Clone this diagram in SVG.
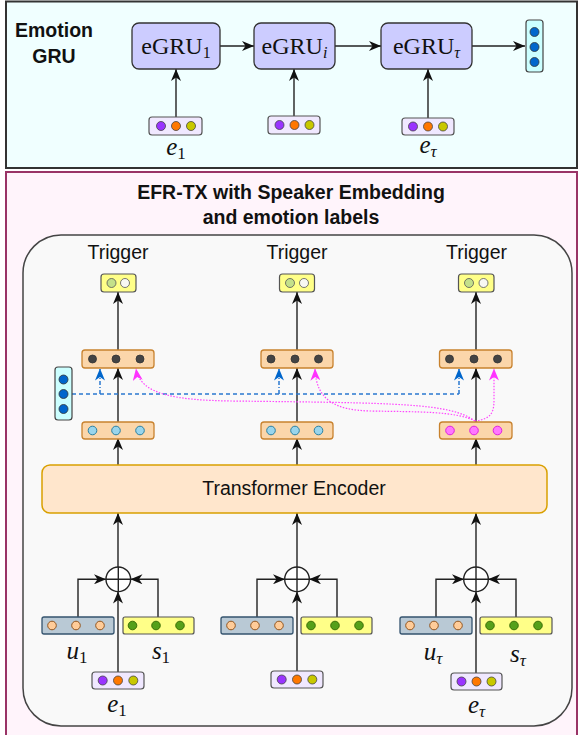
<svg xmlns="http://www.w3.org/2000/svg" width="579" height="735" viewBox="0 0 579 735">
<style>
.ttl{font-family:"Liberation Sans",Arial,sans-serif;font-weight:bold;font-size:19.5px;fill:#111;text-anchor:middle}
.lbl{font-family:"Liberation Sans",Arial,sans-serif;font-size:19.5px;fill:#111;text-anchor:middle}
.math{font-family:"Liberation Serif","Times New Roman",serif;font-size:25px;fill:#111;text-anchor:middle}
.gru{font-family:"Liberation Serif","Times New Roman",serif;font-size:24px;fill:#111;text-anchor:middle}
.gbox{fill:#ccccff;stroke:#333;stroke-width:1.3}
.ebox{fill:#f0e8ff;stroke:#555;stroke-width:1.2}
.cbox{fill:#ccffff;stroke:#444;stroke-width:1.2}
.obox{fill:#fbd6aa;stroke:#c8822e;stroke-width:1.3}
.ybox{fill:#ffff88;stroke:#555;stroke-width:1.2}
.ubox{fill:#b9c9d5;stroke:#34536e;stroke-width:1.3}
.dp{fill:#9933ff;stroke:#444;stroke-width:0.8}
.do{fill:#ff7700;stroke:#444;stroke-width:0.8}
.dy{fill:#c8c800;stroke:#444;stroke-width:0.8}
.db{fill:#0066cc;stroke:#333;stroke-width:0.8}
.dk{fill:#444;stroke:#333;stroke-width:0.8}
.dl{fill:#99d5ec;stroke:#2a7fa0;stroke-width:1}
.dm{fill:#ff77ff;stroke:#dd22dd;stroke-width:1}
.dg{fill:#c4e08a;stroke:#555;stroke-width:0.8}
.dw{fill:#f8f8f2;stroke:#555;stroke-width:0.8}
.dpe{fill:#ffcc99;stroke:#8a4a10;stroke-width:0.9}
.dgr{fill:#55a01a;stroke:#336600;stroke-width:0.9}
.arr{fill:none;stroke:#222;stroke-width:1.4;marker-end:url(#ah)}
.ln{fill:none;stroke:#222;stroke-width:1.4}
.bl{fill:none;stroke:#2a78d0;stroke-width:1.5;stroke-dasharray:4 3}
.bla{fill:none;stroke:#2a78d0;stroke-width:1.5;stroke-dasharray:4 2 1 2;marker-end:url(#ab)}
.mg{fill:none;stroke:#ff44ff;stroke-width:1.2;stroke-dasharray:1.5 1.5;marker-end:url(#am)}
</style>
<defs>
<marker id="ah" viewBox="0 0 12 10" refX="12" refY="5" markerWidth="12" markerHeight="10" markerUnits="userSpaceOnUse" orient="auto"><path d="M0,0 L12,5 L0,10 L3.5,5 z" fill="#111"/></marker>
<marker id="ab" viewBox="0 0 12 10" refX="12" refY="5" markerWidth="12" markerHeight="10" markerUnits="userSpaceOnUse" orient="auto"><path d="M0,0 L12,5 L0,10 L3.5,5 z" fill="#0066cc"/></marker>
<marker id="am" viewBox="0 0 12 10" refX="12" refY="5" markerWidth="12" markerHeight="10" markerUnits="userSpaceOnUse" orient="auto"><path d="M0,0 L12,5 L0,10 L3.5,5 z" fill="#ff33ff"/></marker>
</defs>

<!-- panels -->
<rect x="6" y="1.5" width="571" height="166.5" fill="#f0ffff" stroke="#333" stroke-width="2"/>
<rect x="6" y="172" width="571" height="570" fill="#fff4fb" stroke="#993366" stroke-width="2"/>
<text class="ttl" x="54" y="37">Emotion</text>
<text class="ttl" x="54" y="63">GRU</text>
<text class="ttl" x="291" y="199">EFR-TX with Speaker Embedding</text>
<text class="ttl" x="291" y="224">and emotion labels</text>
<rect x="23" y="235" width="549" height="491" rx="38" ry="38" fill="#f9f9f9" stroke="#444" stroke-width="1.5"/>

<g id="connectors">
<path class="arr" d="M220,46 H254"/>
<path class="arr" d="M335,46 H381"/>
<path class="arr" d="M472,46 H525"/>
<path class="arr" d="M176,117 V69"/>
<path class="arr" d="M294,116 V69"/>
<path class="arr" d="M428,118 V69"/>
<path class="arr" d="M118,350 V292"/>
<path class="arr" d="M297,350 V292"/>
<path class="arr" d="M476,350 V292"/>
<path class="arr" d="M118,422 V368"/>
<path class="arr" d="M297,422 V368"/>
<path class="arr" d="M476,422 V368"/>
<path class="arr" d="M118,465 V438"/>
<path class="arr" d="M297,465 V438"/>
<path class="arr" d="M476,465 V438"/>
<path class="arr" d="M118,567 V513"/>
<path class="arr" d="M297,567 V513"/>
<path class="arr" d="M476,567 V513"/>
<path class="arr" d="M78,617 V579.3 H106"/>
<path class="arr" d="M158,617 V579.3 H130.5"/>
<path class="arr" d="M118,672 V591.5"/>
<path class="arr" d="M257,617 V579.3 H285"/>
<path class="arr" d="M337,617 V579.3 H309"/>
<path class="arr" d="M297,671 V591.5"/>
<path class="arr" d="M436,617 V579.3 H464"/>
<path class="arr" d="M516,617 V579.3 H488"/>
<path class="arr" d="M476,673 V591.5"/>
<path class="bl" d="M72,394 H459"/>
<path class="bla" d="M100,394 V368.5"/>
<path class="bla" d="M279,394 V368.5"/>
<path class="bla" d="M459,394 V368.5"/>
<path class="mg" d="M475,421 C490,419 494,414 494,400 L494,368.5"/>
<path class="mg" d="M475,421 C455,411 420,412 370,411 C335,410 316,400 315,368.5"/>
<path class="mg" d="M475,421 C450,403 400,403 230,401 C180,400 140,396 136,368.5"/>
</g>

<g id="egru1"><rect class="gbox" x="132" y="23" width="88" height="46" rx="7"/><text class="gru" x="176" y="54">eGRU<tspan font-size="16" dy="4">1</tspan></text></g>
<g id="egrui"><rect class="gbox" x="254" y="23" width="81" height="46" rx="7"/><text class="gru" x="294.5" y="54">eGRU<tspan font-size="16" dy="4" font-style="italic">i</tspan></text></g>
<g id="egrut"><rect class="gbox" x="381" y="23" width="91" height="46" rx="7"/><text class="gru" x="426.5" y="54">eGRU<tspan font-size="16" dy="4" font-style="italic">τ</tspan></text></g>
<g id="egru-out"><rect class="cbox" x="526" y="20" width="17" height="52" rx="3"/><circle class="db" cx="534.5" cy="32" r="4.5"/><circle class="db" cx="534.5" cy="47" r="4.5"/><circle class="db" cx="534.5" cy="62" r="4.5"/></g>

<g id="top-e1"><rect class="ebox" x="149" y="117" width="53" height="18" rx="3"/><circle class="dp" cx="161" cy="126" r="4.5"/><circle class="do" cx="176" cy="126" r="4.5"/><circle class="dy" cx="191" cy="126" r="4.5"/><text class="math" x="176" y="155"><tspan font-style="italic">e</tspan><tspan font-size="17" dy="4">1</tspan></text></g>
<g id="top-ei"><rect class="ebox" x="268" y="116" width="52" height="18" rx="3"/><circle class="dp" cx="279.5" cy="125" r="4.5"/><circle class="do" cx="294.5" cy="125" r="4.5"/><circle class="dy" cx="309.5" cy="125" r="4.5"/></g>
<g id="top-et"><rect class="ebox" x="402" y="118" width="52" height="17" rx="3"/><circle class="dp" cx="413" cy="126.5" r="4.5"/><circle class="do" cx="428" cy="126.5" r="4.5"/><circle class="dy" cx="443" cy="126.5" r="4.5"/><text class="math" x="428" y="153"><tspan font-style="italic">e</tspan><tspan font-size="17" dy="4" font-style="italic">τ</tspan></text></g>

<g id="trig1"><text class="lbl" x="118" y="259">Trigger</text><rect class="ybox" x="101" y="274" width="35" height="18" rx="3"/><circle class="dg" cx="111.5" cy="283" r="4.5"/><circle class="dw" cx="125" cy="283" r="4.5"/></g>
<g id="trig2"><text class="lbl" x="297" y="259">Trigger</text><rect class="ybox" x="279.5" y="274" width="35" height="18" rx="3"/><circle class="dg" cx="290" cy="283" r="4.5"/><circle class="dw" cx="304" cy="283" r="4.5"/></g>
<g id="trig3"><text class="lbl" x="476.5" y="259">Trigger</text><rect class="ybox" x="458.5" y="274" width="35.5" height="18" rx="3"/><circle class="dg" cx="469" cy="283" r="4.5"/><circle class="dw" cx="483.5" cy="283" r="4.5"/></g>

<g id="h1"><rect class="obox" x="82" y="350" width="72" height="18" rx="3"/><circle class="dk" cx="92.5" cy="359" r="4"/><circle class="dk" cx="116" cy="359" r="4"/><circle class="dk" cx="140" cy="359" r="4"/></g>
<g id="h2"><rect class="obox" x="261" y="350" width="72" height="18" rx="3"/><circle class="dk" cx="271" cy="359" r="4"/><circle class="dk" cx="295" cy="359" r="4"/><circle class="dk" cx="318.5" cy="359" r="4"/></g>
<g id="h3"><rect class="obox" x="439.5" y="350" width="72.5" height="18" rx="3"/><circle class="dk" cx="449.5" cy="359" r="4"/><circle class="dk" cx="474" cy="359" r="4"/><circle class="dk" cx="497.5" cy="359" r="4"/></g>

<g id="emo-vec"><rect class="cbox" x="55" y="367" width="17" height="53" rx="3"/><circle class="db" cx="63.5" cy="379.5" r="4.5"/><circle class="db" cx="63.5" cy="394" r="4.5"/><circle class="db" cx="63.5" cy="409" r="4.5"/></g>

<g id="l1"><rect class="obox" x="82" y="422" width="72" height="17" rx="3"/><circle class="dl" cx="92.5" cy="430.5" r="4.3"/><circle class="dl" cx="116" cy="430.5" r="4.3"/><circle class="dl" cx="140" cy="430.5" r="4.3"/></g>
<g id="l2"><rect class="obox" x="261" y="422" width="72" height="17" rx="3"/><circle class="dl" cx="271" cy="430.5" r="4.3"/><circle class="dl" cx="295" cy="430.5" r="4.3"/><circle class="dl" cx="318.5" cy="430.5" r="4.3"/></g>
<g id="l3"><rect class="obox" x="439.5" y="422" width="72.5" height="17" rx="3"/><circle class="dm" cx="450" cy="430.5" r="4.3"/><circle class="dm" cx="474" cy="430.5" r="4.3"/><circle class="dm" cx="497.5" cy="430.5" r="4.3"/></g>

<g id="encoder"><rect x="42" y="465" width="505" height="48" rx="8" fill="#ffe6cc" stroke="#d9a000" stroke-width="1.5"/><text class="lbl" x="294" y="495">Transformer Encoder</text></g>

<g id="sum1"><circle cx="118.3" cy="579.3" r="12.3" fill="#fff" stroke="#222" stroke-width="1.4"/><path class="ln" d="M106,579.3 H130.6 M118.3,567 V591.6"/></g>
<g id="sum2"><circle cx="297" cy="579.3" r="12.3" fill="#fff" stroke="#222" stroke-width="1.4"/><path class="ln" d="M284.7,579.3 H309.3 M297,567 V591.6"/></g>
<g id="sum3"><circle cx="476" cy="579.3" r="12.3" fill="#fff" stroke="#222" stroke-width="1.4"/><path class="ln" d="M463.7,579.3 H488.3 M476,567 V591.6"/></g>

<g id="u1"><rect class="ubox" x="42" y="617" width="72" height="17" rx="2"/><circle class="dpe" cx="52" cy="625.5" r="4.3"/><circle class="dpe" cx="76" cy="625.5" r="4.3"/><circle class="dpe" cx="100" cy="625.5" r="4.3"/><text class="math" x="77" y="659"><tspan font-style="italic">u</tspan><tspan font-size="17" dy="4">1</tspan></text></g>
<g id="s1"><rect class="ybox" x="123" y="617" width="71" height="17" rx="2"/><circle class="dgr" cx="132.5" cy="625.5" r="4.3"/><circle class="dgr" cx="156" cy="625.5" r="4.3"/><circle class="dgr" cx="180" cy="625.5" r="4.3"/><text class="math" x="161" y="659"><tspan font-style="italic">s</tspan><tspan font-size="17" dy="4">1</tspan></text></g>
<g id="e1"><rect class="ebox" x="92" y="672" width="52" height="17" rx="3"/><circle class="dp" cx="102.7" cy="680.5" r="4.5"/><circle class="do" cx="118" cy="680.5" r="4.5"/><circle class="dy" cx="133.3" cy="680.5" r="4.5"/><text class="math" x="117" y="712"><tspan font-style="italic">e</tspan><tspan font-size="17" dy="4">1</tspan></text></g>

<g id="u2"><rect class="ubox" x="221" y="617" width="72" height="17" rx="2"/><circle class="dpe" cx="231" cy="625.5" r="4.3"/><circle class="dpe" cx="255" cy="625.5" r="4.3"/><circle class="dpe" cx="279" cy="625.5" r="4.3"/></g>
<g id="s2"><rect class="ybox" x="301" y="617" width="71" height="17" rx="2"/><circle class="dgr" cx="311" cy="625.5" r="4.3"/><circle class="dgr" cx="335" cy="625.5" r="4.3"/><circle class="dgr" cx="359" cy="625.5" r="4.3"/></g>
<g id="e2"><rect class="ebox" x="271" y="671" width="52" height="17" rx="3"/><circle class="dp" cx="281.7" cy="679.5" r="4.5"/><circle class="do" cx="297" cy="679.5" r="4.5"/><circle class="dy" cx="312.3" cy="679.5" r="4.5"/></g>

<g id="ut"><rect class="ubox" x="400" y="617" width="72" height="17" rx="2"/><circle class="dpe" cx="410" cy="625.5" r="4.3"/><circle class="dpe" cx="434" cy="625.5" r="4.3"/><circle class="dpe" cx="458" cy="625.5" r="4.3"/><text class="math" x="433" y="660"><tspan font-style="italic">u</tspan><tspan font-size="17" dy="4" font-style="italic">τ</tspan></text></g>
<g id="st"><rect class="ybox" x="480" y="617" width="72" height="17" rx="2"/><circle class="dgr" cx="490" cy="625.5" r="4.3"/><circle class="dgr" cx="514" cy="625.5" r="4.3"/><circle class="dgr" cx="538" cy="625.5" r="4.3"/><text class="math" x="518" y="662"><tspan font-style="italic">s</tspan><tspan font-size="17" dy="4" font-style="italic">τ</tspan></text></g>
<g id="et"><rect class="ebox" x="451" y="673" width="51" height="17" rx="3"/><circle class="dp" cx="461.5" cy="681.5" r="4.5"/><circle class="do" cx="476.5" cy="681.5" r="4.5"/><circle class="dy" cx="491.5" cy="681.5" r="4.5"/><text class="math" x="476.5" y="713"><tspan font-style="italic">e</tspan><tspan font-size="17" dy="4" font-style="italic">τ</tspan></text></g>
</svg>
